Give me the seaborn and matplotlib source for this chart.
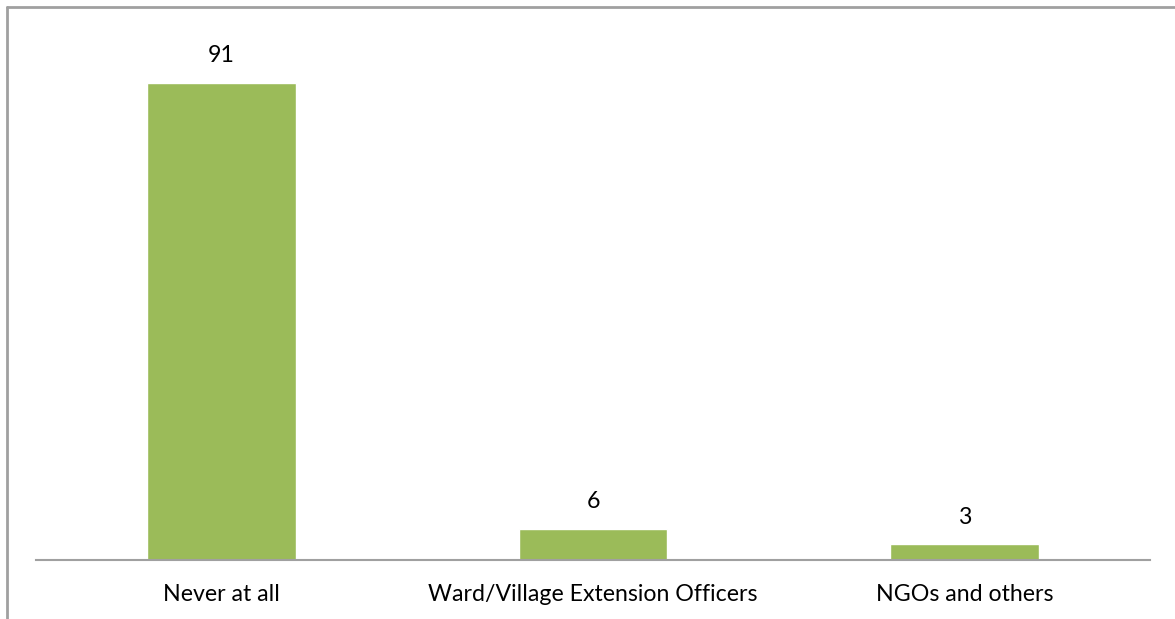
import matplotlib
matplotlib.use("Agg")
import matplotlib.pyplot as plt
import seaborn as sns
import pandas as pd
from matplotlib.lines import Line2D

categories = ["Never at all", "Ward/Village Extension Officers", "NGOs and others"]
values = [91, 6, 3]

sns.set_theme(style="white")
plt.rcParams['font.family'] = ['Lato', 'DejaVu Sans']

W, H = 1175, 619
fig = plt.figure(figsize=(W / 100, H / 100), dpi=100)
ax = fig.add_axes([36 / W, 1 - 560 / H, (1150 - 36) / W, (560 - 36) / H])

df = pd.DataFrame({"cat": categories, "val": values})
sns.barplot(data=df, x="cat", y="val", color="#9BBB59", saturation=1, width=0.4, ax=ax)

ax.set_ylim(0, 100)
ax.set_xlim(-0.5, 2.5)
ax.set_xlabel("")
ax.set_ylabel("")
ax.set_yticks([])
for s in ["top", "right", "left"]:
    ax.spines[s].set_visible(False)
ax.spines["bottom"].set_color("#A0A0A0")
ax.spines["bottom"].set_linewidth(1.5)
ax.tick_params(axis="x", length=0, pad=17, labelsize=16.7, colors="black")

for i, v in enumerate(values):
    ax.annotate(str(v), (i, v), xytext=(0, 12), textcoords="offset points",
                ha="center", va="bottom", fontsize=16.7, color="black")

# outer frame (left and top only visible)
fig.add_artist(Line2D([6.5 / W, 6.5 / W], [0, 1 - 6.5 / H], transform=fig.transFigure,
                      color="#A0A0A0", lw=2))
fig.add_artist(Line2D([6.5 / W, 1], [1 - 6.5 / H, 1 - 6.5 / H], transform=fig.transFigure,
                      color="#A0A0A0", lw=2))

fig.savefig("out.png", dpi=100, facecolor="white")
